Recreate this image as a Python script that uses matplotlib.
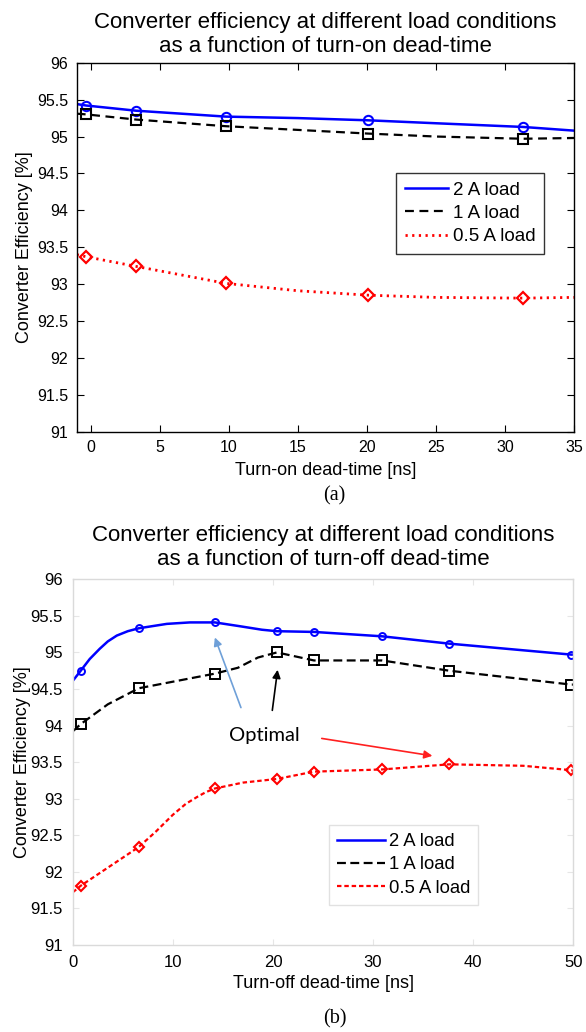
import numpy as np
import matplotlib.pyplot as plt

plt.rcParams['font.family'] = ['Liberation Sans', 'DejaVu Sans']

# ---------------- (a) turn-on dead-time ----------------
on_x_marks = [-0.3, 3.3, 9.8, 20.1, 31.3]
on_2A_marks = [95.42, 95.35, 95.27, 95.22, 95.13]
on_1A_marks = [95.30, 95.23, 95.14, 95.04, 94.97]
on_05A_marks = [93.37, 93.24, 93.01, 92.85, 92.81]

on_x_curve = [-1, -0.3, 3.3, 9.8, 15, 20.1, 25, 31.3, 35]
on_2A_curve = [95.44, 95.42, 95.35, 95.27, 95.25, 95.22, 95.18, 95.13, 95.08]
on_1A_curve = [95.31, 95.30, 95.23, 95.14, 95.09, 95.04, 95.00, 94.97, 94.98]
on_05A_curve = [93.40, 93.37, 93.24, 93.01, 92.91, 92.85, 92.82, 92.81, 92.82]

# ---------------- (b) turn-off dead-time ----------------
off_x_marks = [0.8, 6.6, 14.2, 20.4, 24.1, 30.9, 37.6, 49.8]
off_2A_marks = [94.75, 95.33, 95.41, 95.29, 95.28, 95.22, 95.12, 94.97]
off_1A_marks = [94.02, 94.51, 94.71, 95.00, 94.89, 94.89, 94.75, 94.56]
off_05A_marks = [91.81, 92.34, 93.14, 93.27, 93.37, 93.40, 93.47, 93.39]

off_2A_x = [0, 0.8, 1.7, 2.7, 3.5, 4.4, 5.5, 6.6, 9.4, 11.7, 14.2, 16.6, 18.9, 20.4, 24.1, 30.9, 37.6, 49.8, 50]
off_2A_curve = [94.61, 94.75, 94.91, 95.05, 95.15, 95.23, 95.29, 95.33, 95.39, 95.41, 95.41, 95.36,
                95.31, 95.29, 95.28, 95.22, 95.12, 94.97, 94.97]
off_1A_x = [0, 0.8, 3.5, 6.6, 14.2, 16.5, 18.5, 20.4, 24.1, 30.9, 37.6, 49.8, 50]
off_1A_curve = [93.92, 94.02, 94.29, 94.51, 94.71, 94.79, 94.93, 95.00, 94.89, 94.89, 94.75, 94.56, 94.56]
off_05A_x = [0, 0.8, 6.6, 8.3, 10, 11.3, 12.5, 13.3, 14.2, 17, 20.4, 24.1, 30.9, 37.6, 45, 49.8, 50]
off_05A_curve = [91.72, 91.81, 92.34, 92.55, 92.78, 92.93, 93.03, 93.09, 93.14, 93.22, 93.27, 93.37,
                 93.40, 93.47, 93.45, 93.39, 93.38]

labels = ['2 A load', '1 A load', '0.5 A load']
ytick_vals = np.arange(91, 96.01, 0.5)
ytick_txt = ['91', '91.5', '92', '92.5', '93', '93.5', '94', '94.5', '95', '95.5', '96']

fig = plt.figure(figsize=(5.86, 10.32), dpi=100)
ax1 = fig.add_axes([0.1309, 0.5817, 0.8486, 0.3575])
ax2 = fig.add_axes([0.1241, 0.0843, 0.8542, 0.3544])

# ---- top panel
ax1.plot(on_x_curve, on_2A_curve, color='#0000ff', lw=1.8, label=labels[0])
ax1.plot(on_x_curve, on_1A_curve, color='k', lw=1.6, ls=(0, (4, 2.5)), label=labels[1])
ax1.plot(on_x_curve, on_05A_curve, color='#ff0000', lw=2, ls=(0, (0.8, 1.6)), label=labels[2])
ax1.plot(on_x_marks, on_2A_marks, 'o', color='#0000ff', mfc='none', ms=6.7, mew=1.5)
ax1.plot(on_x_marks, on_1A_marks, 's', color='k', mfc='none', ms=6.7, mew=1.5)
ax1.plot(on_x_marks, on_05A_marks, 'D', color='#ff0000', mfc='none', ms=5.8, mew=1.6)

ax1.set_xlim(-1, 35)
ax1.set_ylim(91, 96)
ax1.set_xticks(np.arange(0, 36, 5))
ax1.set_yticks(ytick_vals)
ax1.set_yticklabels(ytick_txt)
ax1.tick_params(direction='in', top=True, right=True, length=5, width=0.8, labelsize=11.5, pad=6)
for s in ax1.spines.values():
    s.set_linewidth(1)
ax1.set_title('Converter efficiency at different load conditions\nas a function of turn-on dead-time',
              fontsize=16, pad=8, linespacing=1.15)
ax1.set_xlabel('Turn-on dead-time [ns]', fontsize=13, labelpad=5)
ax1.set_ylabel('Converter Efficiency [%]', fontsize=13, labelpad=3)
leg1 = ax1.legend(loc='upper left', bbox_to_anchor=(0.643, 0.701), fontsize=13.5, frameon=True,
                  fancybox=False, edgecolor='k', handlelength=2.3, borderpad=0.45,
                  labelspacing=0.33, handletextpad=0.25, borderaxespad=0)
leg1.get_frame().set_linewidth(1)
ax1.text(0.518, -0.174, '(a)', transform=ax1.transAxes, ha='center', va='center',
         fontsize=14.5, family='Liberation Serif')

# ---- bottom panel
ax2.plot(off_2A_x, off_2A_curve, color='#0000ff', lw=1.8, label=labels[0])
ax2.plot(off_1A_x, off_1A_curve, color='k', lw=1.6, ls=(0, (4, 2)), label=labels[1])
ax2.plot(off_05A_x, off_05A_curve, color='#ff0000', lw=1.6, ls=(0, (2, 1.3)), label=labels[2])
ax2.plot(off_x_marks, off_2A_marks, 'o', color='#0000ff', mfc='none', ms=5, mew=1.4)
ax2.plot(off_x_marks, off_1A_marks, 's', color='k', mfc='none', ms=6.5, mew=1.4)
ax2.plot(off_x_marks, off_05A_marks, 'D', color='#ff0000', mfc='none', ms=5.5, mew=1.5)

ax2.set_xlim(0, 50)
ax2.set_ylim(91, 96)
ax2.set_xticks(np.arange(0, 51, 10))
ax2.set_yticks(ytick_vals)
ax2.set_yticklabels(ytick_txt)
ax2.tick_params(direction='in', top=True, right=True, length=4, width=0.8, color='#e6e6e6',
                labelsize=12, pad=7)
for s in ax2.spines.values():
    s.set_color('#dadada')
    s.set_linewidth(1)
ax2.set_title('Converter efficiency at different load conditions\nas a function of turn-off dead-time',
              fontsize=16, pad=10.5, linespacing=1.15)
ax2.set_xlabel('Turn-off dead-time [ns]', fontsize=13, labelpad=4)
ax2.set_ylabel('Converter Efficiency [%]', fontsize=13, labelpad=0)
leg2 = ax2.legend(loc='upper left', bbox_to_anchor=(0.511, 0.328), fontsize=13.3, frameon=True,
                  fancybox=False, edgecolor='#dadada', handlelength=2.6, borderpad=0.45,
                  labelspacing=0.33, handletextpad=0.2, borderaxespad=0)
leg2.get_frame().set_linewidth(1)
ax2.text(0.524, -0.203, '(b)', transform=ax2.transAxes, ha='center', va='center',
         fontsize=14.5, family='Liberation Serif')

# annotations
ax2.text(19.1, 93.87, 'Optimal', ha='center', va='center', fontsize=14.5, family='Lato')
ax2.annotate('', xy=(14.1, 95.24), xytext=(16.9, 94.21),
             arrowprops=dict(arrowstyle='-|>', color='#6fa0d8', lw=1.2, mutation_scale=12))
ax2.annotate('', xy=(20.5, 94.80), xytext=(19.9, 94.17),
             arrowprops=dict(arrowstyle='-|>', color='k', lw=1.2, mutation_scale=12))
ax2.annotate('', xy=(36.2, 93.58), xytext=(24.6, 93.83),
             arrowprops=dict(arrowstyle='-|>', color='#ff2020', lw=1.2, mutation_scale=12))

fig.savefig('out.png', dpi=100)
